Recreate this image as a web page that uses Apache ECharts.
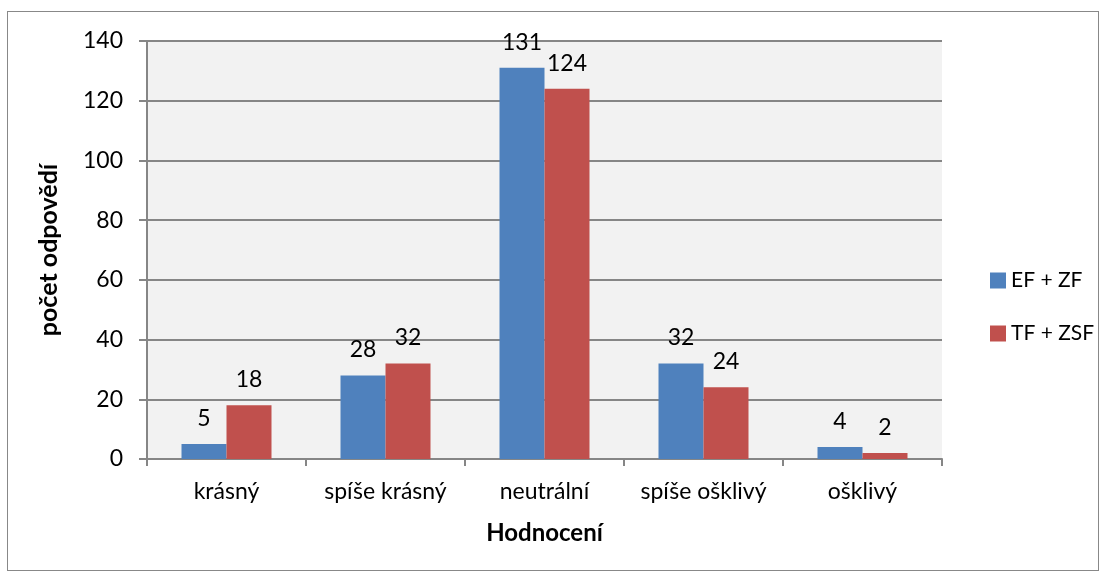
<!DOCTYPE html>
<html>
<head>
<meta charset="utf-8">
<script src="https://cdn.jsdelivr.net/npm/echarts@6/dist/echarts.min.js"></script>
<style>
  html, body { margin: 0; padding: 0; background: #fff; }
  #frame { position: absolute; left: 7px; top: 11px; width: 1092px; height: 560px; border: 1px solid #888; box-sizing: border-box; }
  #chart { position: absolute; left: 0; top: 0; width: 1108px; height: 574px; }
</style>
</head>
<body>
<div id="frame"></div>
<div id="chart"></div>
<script>
const categories = ['krásný', 'spíše krásný', 'neutrální', 'spíše ošklivý', 'ošklivý']
const efZf = [5, 28, 131, 32, 4]
const tfZsf = [18, 32, 124, 24, 2]
const seriesNames = ['EF + ZF', 'TF + ZSF']

const font = 'Lato, "Open Sans", sans-serif'
const chart = echarts.init(document.getElementById('chart'))

const label = {
    show: true,
    position: 'top',
    distance: 14,
    fontSize: 23,
    fontFamily: font,
    color: '#000'
}

chart.setOption({
    animation: false,
    grid: { left: 147, right: 166, top: 41, bottom: 115 },
    legend: {
        orient: 'vertical',
        left: 985,
        top: 265,
        itemWidth: 16,
        itemHeight: 16,
        itemGap: 32,
        icon: 'rect',
        textStyle: { fontSize: 21, lineHeight: 16, fontFamily: font, color: '#000' },
        data: seriesNames
    },
    xAxis: {
        type: 'category',
        data: categories,
        name: 'Hodnocení',
        nameLocation: 'middle',
        nameGap: 62,
        nameTextStyle: { fontSize: 24, fontWeight: 'bold', fontFamily: font, color: '#000' },
        axisLine: { lineStyle: { color: '#868686', width: 2 } },
        axisTick: { show: true, length: 7, lineStyle: { color: '#868686', width: 2 } },
        axisLabel: { interval: 0, fontSize: 23, fontFamily: font, color: '#000', margin: 21 },
        splitArea: { show: false }
    },
    yAxis: {
        type: 'value',
        min: 0,
        max: 140,
        interval: 20,
        name: 'počet odpovědí',
        nameLocation: 'middle',
        nameGap: 86,
        nameTextStyle: { fontSize: 25, fontWeight: 'bold', fontFamily: font, color: '#000' },
        axisLine: { show: true, lineStyle: { color: '#868686', width: 2 } },
        axisTick: { show: true, length: 8, lineStyle: { color: '#868686', width: 2 } },
        axisLabel: { fontSize: 23, fontFamily: font, color: '#000', margin: 24 },
        splitLine: { lineStyle: { color: '#868686', width: 2 } },
        splitArea: { show: true, areaStyle: { color: ['#f2f2f2'] } }
    },
    series: [
        {
            name: seriesNames[0],
            type: 'bar',
            data: efZf,
            barWidth: 45,
            barGap: '0%',
            itemStyle: { color: '#4f81bd' },
            label: label
        },
        {
            name: seriesNames[1],
            type: 'bar',
            data: tfZsf,
            barWidth: 45,
            itemStyle: { color: '#c0504d' },
            label: label
        }
    ]
})
</script>
</body>
</html>
